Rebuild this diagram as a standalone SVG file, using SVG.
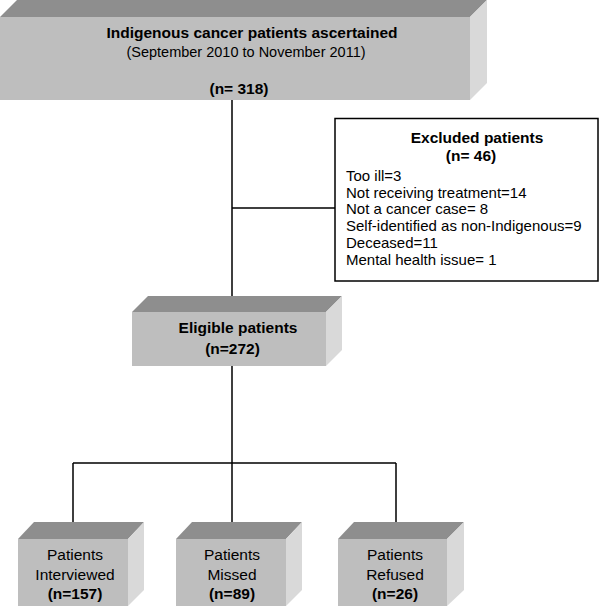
<svg xmlns="http://www.w3.org/2000/svg" width="600" height="607" viewBox="0 0 600 607">
<style>
.front{fill:#bebebe}
.top{fill:#8e8e8e}
.side{fill:#d9d9d9}
.conn{stroke:#000;stroke-width:1.5;fill:none}
text{font-family:"Liberation Sans",Arial,sans-serif;fill:#000}
.b{font-weight:bold}
.c{text-anchor:middle}
</style>
<rect width="600" height="607" fill="#fff"/>
<g id="connectors">
<path class="conn" d="M232,100 V296 M232,208 H335 M232,366 V463 M73,463 H396 M73,463 V522 M232,463 V522 M396,463 V522"/>
</g>
<g id="ascertained">
<polygon class="top" points="0,17 17,0 487,0 470,17"/>
<polygon class="side" points="470,17 487,0 487,83 470,100"/>
<rect class="front" x="0" y="17" width="470" height="83"/>
<text class="b c" x="252" y="38" font-size="15.5">Indigenous cancer patients ascertained</text>
<text class="c" x="246" y="57" font-size="14.5">(September 2010 to November 2011)</text>
<text class="b c" x="239" y="94" font-size="15.5">(n= 318)</text>
</g>
<g id="excluded">
<rect x="335" y="118.5" width="263" height="162.5" fill="#fff" stroke="#000" stroke-width="1.5"/>
<text class="b c" x="477" y="143" font-size="15.5">Excluded patients</text>
<text class="b c" x="471" y="161" font-size="15.5">(n= 46)</text>
<g font-size="15">
<text x="346" y="181">Too ill=3</text>
<text x="346" y="198">Not receiving treatment=14</text>
<text x="346" y="214">Not a cancer case= 8</text>
<text x="346" y="231">Self-identified as non-Indigenous=9</text>
<text x="346" y="248">Deceased=11</text>
<text x="346" y="265">Mental health issue= 1</text>
</g>
</g>
<g id="eligible">
<polygon class="top" points="132,312 148,296 342,296 326,312"/>
<polygon class="side" points="326,312 342,296 342,350 326,366"/>
<rect class="front" x="132" y="312" width="194" height="54"/>
<text class="b c" x="238" y="333" font-size="15.5">Eligible patients</text>
<text class="b c" x="232.5" y="354" font-size="15.5">(n=272)</text>
</g>
<g id="interviewed">
<polygon class="top" points="18,539 34,522 144,522 128,539"/>
<polygon class="side" points="128,539 144,522 144,590 128,606"/>
<rect class="front" x="18" y="539" width="110" height="67"/>
<text class="c" x="75" y="560" font-size="15.5">Patients</text>
<text class="c" x="75" y="580" font-size="15.5">Interviewed</text>
<text class="b c" x="75" y="599" font-size="15.5">(n=157)</text>
</g>
<g id="missed">
<polygon class="top" points="176,539 192,522 302,522 286,539"/>
<polygon class="side" points="286,539 302,522 302,590 286,606"/>
<rect class="front" x="176" y="539" width="110" height="67"/>
<text class="c" x="232" y="560" font-size="15.5">Patients</text>
<text class="c" x="232" y="580" font-size="15.5">Missed</text>
<text class="b c" x="232" y="599" font-size="15.5">(n=89)</text>
</g>
<g id="refused">
<polygon class="top" points="338,539 354,522 464,522 447,539"/>
<polygon class="side" points="447,539 464,522 464,590 447,606"/>
<rect class="front" x="338" y="539" width="109" height="67"/>
<text class="c" x="395" y="560" font-size="15.5">Patients</text>
<text class="c" x="395" y="580" font-size="15.5">Refused</text>
<text class="b c" x="395" y="599" font-size="15.5">(n=26)</text>
</g>
</svg>
